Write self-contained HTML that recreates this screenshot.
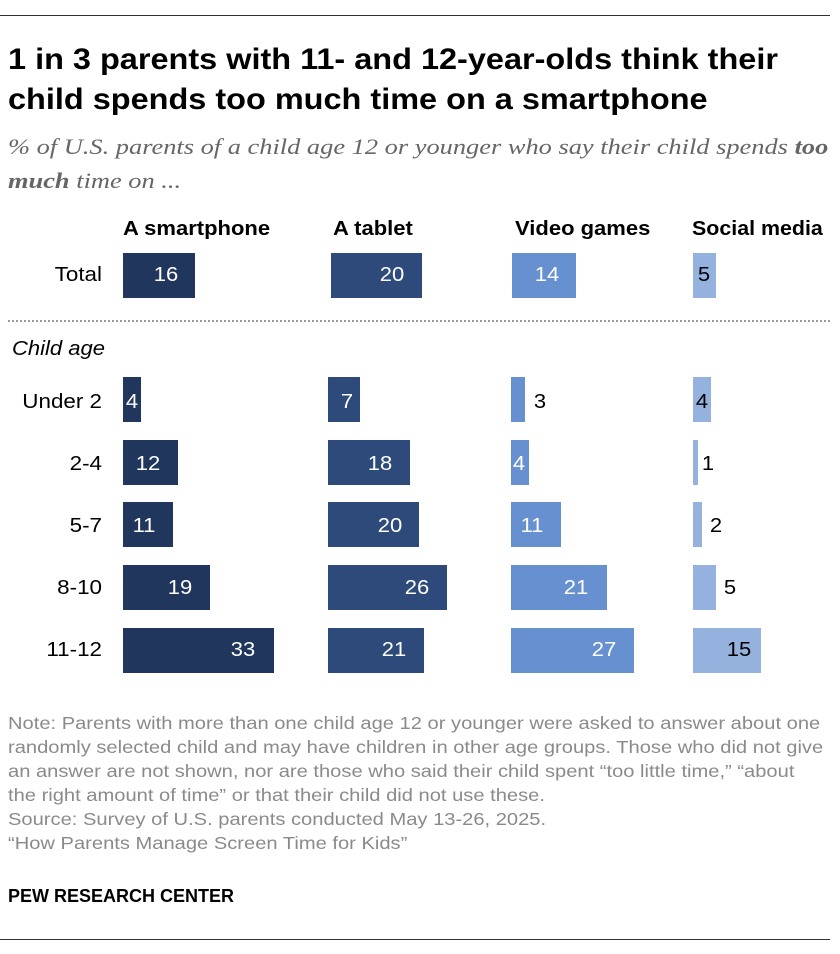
<!DOCTYPE html>
<html><head><meta charset="utf-8"><style>
body{margin:0;width:840px;height:954px;background:#fff;position:relative;font-family:"Liberation Sans",sans-serif;overflow:hidden}
.a{position:absolute;white-space:nowrap;transform-origin:0 0}
.b{position:absolute;height:45px}
.n{position:absolute;font-size:20px;transform:translateX(-50%) scaleX(1.1);line-height:20px}
.w{color:#fff}.k{color:#000}
.c1{background:#20365c}.c2{background:#2d4a7a}.c3{background:#6690d0}.c4{background:#95b2de}
.r{font-size:20px;text-align:right;width:102px;left:0;line-height:20px;transform:scaleX(1.12);transform-origin:102px 0}
.h{font-size:20px;font-weight:bold;transform:scaleX(1.1)}
.note{font-size:17.5px;color:#8a8a8a;line-height:24px;transform:scaleX(1.15)}
</style></head><body>
<div class="a" style="left:0;top:15px;width:830px;border-top:1px solid #333"></div>
<div class="a" style="left:8px;top:40px;font-size:29.5px;font-weight:bold;line-height:40px;color:#000;transform:scaleX(1.1)">1 in 3 parents with 11- and 12-year-olds think their<br>child spends too much time on a smartphone</div>
<div class="a" style="left:8px;top:130px;font-size:22px;font-style:italic;font-family:'Liberation Serif',serif;color:#666;line-height:34px;transform:scaleX(1.2)">% of U.S. parents of a child age 12 or younger who say their child spends <b>too</b><br><b>much</b> time on ...</div>
<div class="a h" style="left:123px;top:218px">A smartphone</div>
<div class="a h" style="left:333px;top:218px">A tablet</div>
<div class="a h" style="left:515px;top:218px">Video games</div>
<div class="a h" style="left:692px;top:218px;transform:scaleX(1.07)">Social media</div>
<div class="a" style="left:8px;top:320px;width:822px;border-top:2px dotted #999"></div>
<div class="a" style="left:12px;top:338px;font-size:20px;font-style:italic;transform:scaleX(1.1)">Child age</div>

<div class="a r" style="top:265px">Total</div>
<div class="a r" style="top:392px">Under 2</div>
<div class="a r" style="top:454px">2-4</div>
<div class="a r" style="top:516px">5-7</div>
<div class="a r" style="top:578px">8-10</div>
<div class="a r" style="top:640px">11-12</div>

<div class="b c1" style="left:123px;top:253px;width:72px"></div><div class="n w" style="left:166px;top:265px">16</div>
<div class="b c2" style="left:331px;top:253px;width:91px"></div><div class="n w" style="left:392px;top:265px">20</div>
<div class="b c3" style="left:512px;top:253px;width:64px"></div><div class="n w" style="left:547px;top:265px">14</div>
<div class="b c4" style="left:693px;top:253px;width:23px"></div><div class="n k" style="left:704px;top:265px">5</div>

<div class="b c1" style="left:123px;top:377px;width:18px"></div><div class="n w" style="left:132px;top:392px">4</div>
<div class="b c2" style="left:328px;top:377px;width:32px"></div><div class="n w" style="left:347px;top:392px">7</div>
<div class="b c3" style="left:511px;top:377px;width:14px"></div><div class="n k" style="left:540px;top:392px">3</div>
<div class="b c4" style="left:693px;top:377px;width:18px"></div><div class="n k" style="left:702px;top:392px">4</div>

<div class="b c1" style="left:123px;top:440px;width:55px"></div><div class="n w" style="left:148px;top:454px">12</div>
<div class="b c2" style="left:328px;top:440px;width:82px"></div><div class="n w" style="left:380px;top:454px">18</div>
<div class="b c3" style="left:511px;top:440px;width:18px"></div><div class="n w" style="left:519px;top:454px">4</div>
<div class="b c4" style="left:693px;top:440px;width:5px"></div><div class="n k" style="left:708px;top:454px">1</div>

<div class="b c1" style="left:123px;top:502px;width:50px"></div><div class="n w" style="left:144px;top:516px">11</div>
<div class="b c2" style="left:328px;top:502px;width:91px"></div><div class="n w" style="left:390px;top:516px">20</div>
<div class="b c3" style="left:511px;top:502px;width:50px"></div><div class="n w" style="left:532px;top:516px">11</div>
<div class="b c4" style="left:693px;top:502px;width:9px"></div><div class="n k" style="left:716px;top:516px">2</div>

<div class="b c1" style="left:123px;top:565px;width:87px"></div><div class="n w" style="left:180px;top:578px">19</div>
<div class="b c2" style="left:328px;top:565px;width:119px"></div><div class="n w" style="left:417px;top:578px">26</div>
<div class="b c3" style="left:511px;top:565px;width:96px"></div><div class="n w" style="left:576px;top:578px">21</div>
<div class="b c4" style="left:693px;top:565px;width:23px"></div><div class="n k" style="left:730px;top:578px">5</div>

<div class="b c1" style="left:123px;top:628px;width:151px"></div><div class="n w" style="left:243px;top:640px">33</div>
<div class="b c2" style="left:328px;top:628px;width:96px"></div><div class="n w" style="left:394px;top:640px">21</div>
<div class="b c3" style="left:511px;top:628px;width:123px"></div><div class="n w" style="left:604px;top:640px">27</div>
<div class="b c4" style="left:693px;top:628px;width:68px"></div><div class="n k" style="left:739px;top:640px">15</div>

<div class="a note" style="left:8px;top:711px">Note: Parents with more than one child age 12 or younger were asked to answer about one<br>randomly selected child and may have children in other age groups. Those who did not give<br>an answer are not shown, nor are those who said their child spent “too little time,” “about<br>the right amount of time” or that their child did not use these.<br>Source: Survey of U.S. parents conducted May 13-26, 2025.<br>“How Parents Manage Screen Time for Kids”</div>
<div class="a" style="left:8px;top:886px;font-size:18px;font-weight:bold">PEW RESEARCH CENTER</div>
<div class="a" style="left:0;top:939px;width:830px;border-top:1px solid #333"></div>
</body></html>
